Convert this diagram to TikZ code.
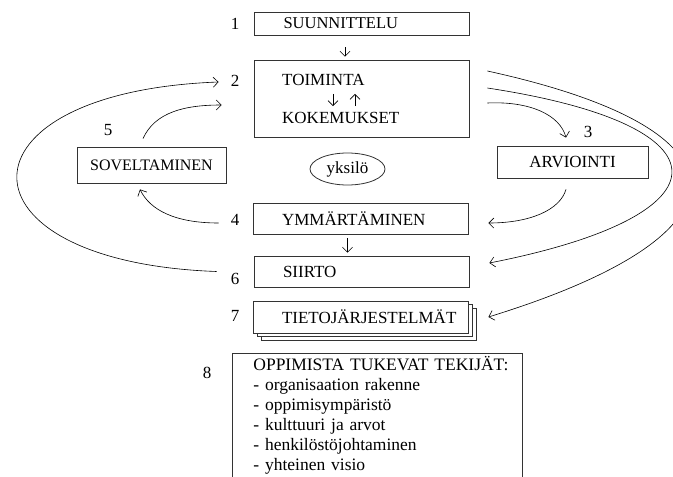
\documentclass[tikz,border=0pt]{standalone}
\usepackage{fontspec}
\setmainfont{Liberation Serif}
\usetikzlibrary{shapes.geometric, arrows.meta, shadows}
\hfuzz=40pt
\tikzstyle{stage} = [rectangle, draw=black!80, line width=0.8pt, minimum width=215pt, text width=157pt, inner xsep=29pt, align=left]
\tikzstyle{sidebox} = [rectangle, draw=black!80, line width=0.8pt, text centered]
\tikzstyle{word} = [inner sep=0pt]
\tikzstyle{numlabel} = [inner sep=0pt]
\tikzstyle{arrow} = [line width=0.6pt, -{Straight Barb[length=5pt,width=10pt]}]

\begin{document}
\begin{tikzpicture}[x=1pt, y=-1pt, font=\fontsize{17}{20}\selectfont]
    \useasboundingbox (0,0) rectangle (673,477);

    % Nodes
    \node (suunn) [stage, minimum height=23pt, font=\fontsize{16.5}{20}\selectfont] at (362,23.5) {SUUNNITTELU};
    \node (toimbox) [stage, minimum height=77pt] at (361.5,98.5) {};
    \node (toiminta) [word, anchor=west] at (282,80) {TOIMINTA};
    \node (kokem) [word, anchor=west] at (282,118) {KOKEMUKSET};
    \node (arvio) [sidebox, minimum width=151pt, minimum height=32pt] at (572.5,162) {ARVIOINTI};
    \node (sovelt) [sidebox, minimum width=149pt, minimum height=36pt, font=\fontsize{16}{20}\selectfont] at (151.5,165) {SOVELTAMINEN};
    \node (yksilo) [ellipse, draw=black!80, line width=0.8pt, minimum width=75pt, minimum height=32pt, inner sep=0pt] at (347.5,169) {yksilö};
    \node (ymmart) [stage, minimum height=31pt] at (360.5,218.5) {YMMÄRTÄMINEN};
    \node (siirto) [stage, minimum height=31pt] at (361.5,271.5) {SIIRTO};
    \node (tieto) [stage, minimum height=32pt, fill=white,
        copy shadow={shadow xshift=8pt, shadow yshift=-7pt, draw=black!80, line width=0.8pt},
        copy shadow={shadow xshift=4pt, shadow yshift=-3.5pt, draw=black!80, line width=0.8pt}] at (360.5,317) {TIETOJÄRJESTELMÄT};
    \node (tekijat) [rectangle, draw=black!80, line width=0.8pt, anchor=north west, text width=272pt, inner xsep=9pt, inner ysep=3pt, align=left, font=\fontsize{17.5}{20}\selectfont] at (232,353)
        {\leftskip=12pt OPPIMISTA TUKEVAT TEKIJÄT:\\ - organisaation rakenne\\ - oppimisympäristö\\ - kulttuuri ja arvot\\ - henkilöstöjohtaminen\\ - yhteinen visio\par};

    \node (num1) [numlabel] at (235,24) {1};
    \node (num2) [numlabel] at (235,81) {2};
    \node (num3) [numlabel] at (588,132) {3};
    \node (num4) [numlabel] at (235,220) {4};
    \node (num5) [numlabel] at (108,130) {5};
    \node (num6) [numlabel] at (235,279) {6};
    \node (num7) [numlabel] at (235,316) {7};
    \node (num8) [numlabel] at (207,373) {8};

    % Arrows
    \draw [arrow, shorten <=12pt, shorten >=3pt] ([xshift=-17pt]suunn.south) -- ([xshift=-17pt]suunn.south |- toimbox.north);
    \draw [arrow, shorten <=8pt, shorten >=6pt] ([xshift=51pt]toiminta.south west) -- ([xshift=51pt]toiminta.south west |- kokem.north);
    \draw [arrow, shorten <=6pt, shorten >=8pt] ([xshift=73pt]kokem.north west) -- ([xshift=73pt]kokem.north west |- toiminta.south);
    \draw [arrow, shorten <=4pt, shorten >=3pt] ([xshift=-13pt]ymmart.south) -- ([xshift=-13pt]ymmart.south |- siirto.north);

    \draw [arrow] ([xshift=-8.5pt, yshift=8pt]sovelt.north) .. controls (155,112) and (185,105) .. ([xshift=-32pt, yshift=-6.5pt]toimbox.west);
    \draw [arrow] ([xshift=-34pt, yshift=-4.5pt]ymmart.west) .. controls (175,223) and (150,210) .. ([xshift=-11.5pt, yshift=-6pt]sovelt.south);
    \draw [arrow] ([xshift=-37pt]siirto.west) .. controls (-50,262) and (-50,92) .. ([xshift=-35pt, yshift=16.5pt]toimbox.west);

    \draw [arrow] ([xshift=18pt, yshift=-4.5pt]toimbox.east) .. controls (530,101) and (560,115) .. ([xshift=-6.5pt, yshift=8pt]arvio.north);
    \draw [arrow] ([xshift=-6.5pt, yshift=-11pt]arvio.south) .. controls (560,210) and (530,223) .. ([xshift=20pt, yshift=-4.5pt]ymmart.east);
    \draw [arrow] ([xshift=18pt, yshift=10.5pt]toimbox.east) .. controls (732,125) and (734,215) .. ([xshift=20pt, yshift=8.5pt]siirto.east);
    \draw [arrow] ([xshift=18pt, yshift=27.5pt]toimbox.east) .. controls (757,130) and (758,234) .. ([xshift=20pt]tieto.east);

\end{tikzpicture}
\end{document}
